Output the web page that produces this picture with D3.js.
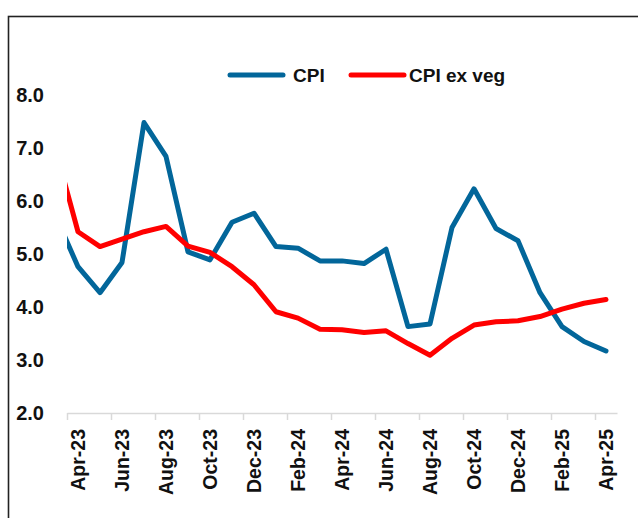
<!DOCTYPE html>
<html>
<head>
<meta charset="utf-8">
<script src="https://cdn.jsdelivr.net/npm/d3@7"></script>
<style>
  html, body { margin: 0; padding: 0; background: #fff; }
  svg { display: block; font-family: "Liberation Sans", Arial, sans-serif; }
</style>
</head>
<body>
<svg id="chart" width="638" height="518"></svg>
<script>
// months, first one (Mar-23) sits just left of the plot and gets clipped
const months = ["Mar-23", "Apr-23", "May-23", "Jun-23", "Jul-23", "Aug-23", "Sep-23", "Oct-23",
  "Nov-23", "Dec-23", "Jan-24", "Feb-24", "Mar-24", "Apr-24", "May-24", "Jun-24", "Jul-24",
  "Aug-24", "Sep-24", "Oct-24", "Nov-24", "Dec-24", "Jan-25", "Feb-25", "Mar-25", "Apr-25"];

const cpi = [5.7, 4.76, 4.27, 4.84, 7.48, 6.84, 5.04, 4.89, 5.6, 5.77, 5.14, 5.11, 4.87,
  4.87, 4.82, 5.09, 3.63, 3.68, 5.5, 6.23, 5.48, 5.25, 4.27, 3.63, 3.35, 3.17];

const cpiExVeg = [6.95, 5.42, 5.14, 5.28, 5.42, 5.52, 5.15, 5.03, 4.76, 4.42, 3.91, 3.79, 3.58,
  3.57, 3.52, 3.55, 3.31, 3.09, 3.41, 3.66, 3.72, 3.74, 3.82, 3.96, 4.07, 4.14];

const yTicks = [2, 3, 4, 5, 6, 7, 8];

const seriesNames = ["CPI", "CPI ex veg"];
const seriesColors = ["#02669a", "#ff0000"];

const svg = d3.select("#chart");

// outer frame (runs off the right and bottom edges)
svg.append("rect")
  .attr("x", 8.5).attr("y", 16.5)
  .attr("width", 700).attr("height", 600)
  .attr("fill", "none")
  .attr("stroke", "#222")
  .attr("stroke-width", 1.6);

const x = d3.scaleLinear().domain([0.5, months.length - 0.5]).range([67, 617]);
const y = d3.scaleLinear().domain([2, 8]).range([413, 95]);

// y labels, no axis line
svg.append("g")
  .selectAll("text")
  .data(yTicks)
  .join("text")
  .attr("x", 44)
  .attr("y", d => y(d))
  .attr("dy", "0.36em")
  .attr("text-anchor", "end")
  .attr("font-size", 20)
  .attr("font-weight", "bold")
  .attr("fill", "#111")
  .text(d => d.toFixed(1));

// x axis: ticks between categories, every other month
const labelIdx = d3.range(1, months.length, 2);
const xAxis = d3.axisBottom(x)
  .tickValues(labelIdx.map(i => i - 0.5))
  .tickSize(7)
  .tickSizeOuter(0)
  .tickFormat("");

const gx = svg.append("g")
  .attr("transform", `translate(0,${y(2)})`)
  .call(xAxis);
gx.select(".domain").attr("stroke", "#d9d9d9").attr("stroke-width", 1.5);
gx.selectAll(".tick line").attr("stroke", "#d9d9d9").attr("stroke-width", 1.5);

svg.append("g")
  .selectAll("text")
  .data(labelIdx)
  .join("text")
  .attr("transform", i => `translate(${x(i)},${y(2) + 16}) rotate(-90)`)
  .attr("dy", "0.36em")
  .attr("text-anchor", "end")
  .attr("font-size", 19.5)
  .attr("font-weight", "bold")
  .attr("fill", "#111")
  .text(i => months[i]);

// clip lines to the plot area
svg.append("defs").append("clipPath").attr("id", "plot-clip")
  .append("rect")
  .attr("x", x.range()[0]).attr("y", 0)
  .attr("width", x.range()[1] - x.range()[0]).attr("height", 518);

const line = d3.line()
  .x((d, i) => x(i))
  .y(d => y(d))
  .curve(d3.curveLinear);

const plot = svg.append("g").attr("clip-path", "url(#plot-clip)");
[cpi, cpiExVeg].forEach((vals, k) => {
  plot.append("path")
    .datum(vals)
    .attr("d", line)
    .attr("fill", "none")
    .attr("stroke", seriesColors[k])
    .attr("stroke-width", 5)
    .attr("stroke-linejoin", "round")
    .attr("stroke-linecap", "round");
});

// legend
const legend = svg.append("g");
const legendX = [230, 351];
seriesNames.forEach((name, k) => {
  legend.append("line")
    .attr("x1", legendX[k]).attr("x2", legendX[k] + 53)
    .attr("y1", 75).attr("y2", 75)
    .attr("stroke", seriesColors[k])
    .attr("stroke-width", 5)
    .attr("stroke-linecap", "round");
  legend.append("text")
    .attr("x", legendX[k] + (k === 0 ? 63 : 58))
    .attr("y", 82)
    .attr("font-size", 19)
    .attr("font-weight", "bold")
    .attr("fill", "#111")
    .text(name);
});
</script>
</body>
</html>
